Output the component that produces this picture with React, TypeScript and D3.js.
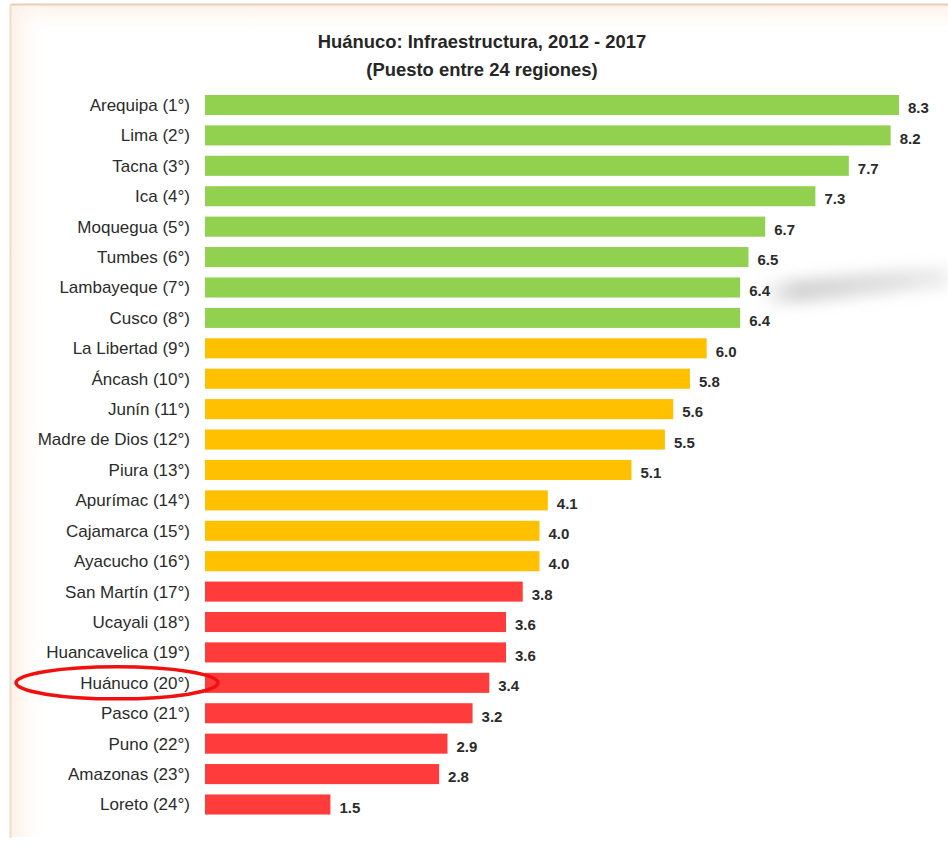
import React from "react";
import * as d3 from "d3";

const regions = [
  "Arequipa", "Lima", "Tacna", "Ica", "Moquegua", "Tumbes", "Lambayeque", "Cusco",
  "La Libertad", "Áncash", "Junín", "Madre de Dios", "Piura", "Apurímac", "Cajamarca", "Ayacucho",
  "San Martín", "Ucayali", "Huancavelica", "Huánuco", "Pasco", "Puno", "Amazonas", "Loreto",
];
const ranks = ["1°", "2°", "3°", "4°", "5°", "6°", "7°", "8°", "9°", "10°", "11°", "12°", "13°", "14°", "15°", "16°", "17°", "18°", "19°", "20°", "21°", "22°", "23°", "24°"];
const values = [8.3, 8.2, 7.7, 7.3, 6.7, 6.5, 6.4, 6.4, 6.0, 5.8, 5.6, 5.5, 5.1, 4.1, 4.0, 4.0, 3.8, 3.6, 3.6, 3.4, 3.2, 2.9, 2.8, 1.5];
const groups = ["alto", "alto", "alto", "alto", "alto", "alto", "alto", "alto",
  "medio", "medio", "medio", "medio", "medio", "medio", "medio", "medio",
  "bajo", "bajo", "bajo", "bajo", "bajo", "bajo", "bajo", "bajo"];
const titleLines = ["Huánuco:  Infraestructura, 2012 - 2017", "(Puesto entre 24 regiones)"];
const highlighted = "Huánuco";

const W = 948;
const H = 844;
const FONT = "'Liberation Sans Narrow', 'Arial Narrow', 'Liberation Sans', Arial, sans-serif";

export default function App() {
  const x = d3.scaleLinear().domain([0, 8.3]).range([205, 899]);
  const y = d3
    .scaleBand<string>()
    .domain(regions)
    .range([89.8, 819.7])
    .paddingInner(0.34)
    .paddingOuter(0.17);
  const color = d3
    .scaleOrdinal<string, string>()
    .domain(["alto", "medio", "bajo"])
    .range(["#92D050", "#FFC000", "#FF3B3B"]);
  const bh = y.bandwidth();
  const hiY = (y(highlighted) ?? 0) + bh / 2;

  return (
    <svg
      width={W}
      height={H}
      style={{ position: "absolute", left: 0, top: 0, background: "#fff" }}
    >
      <defs>
        <filter id="blur" x="-30%" y="-200%" width="160%" height="500%">
          <feGaussianBlur stdDeviation="7" />
        </filter>
        <linearGradient id="smudge" x1="0" x2="1" y1="0" y2="0">
          <stop offset="0" stopColor="#b0b0b0" stopOpacity="0" />
          <stop offset="0.2" stopColor="#b0b0b0" stopOpacity="0.55" />
          <stop offset="0.7" stopColor="#bdbdbd" stopOpacity="0.45" />
          <stop offset="1" stopColor="#d0d0d0" stopOpacity="0.35" />
        </linearGradient>
        <linearGradient id="edge" x1="0" x2="1" y1="0" y2="0">
          <stop offset="0" stopColor="#fdf1e6" />
          <stop offset="1" stopColor="#ffffff" stopOpacity="0" />
        </linearGradient>
        <linearGradient id="topedge" x1="0" x2="0" y1="0" y2="1">
          <stop offset="0" stopColor="#fdf1e6" />
          <stop offset="1" stopColor="#ffffff" stopOpacity="0" />
        </linearGradient>
      </defs>
      <rect x={0} y={0} width={W} height={H} fill="#fff" />
      {/* frame */}
      <rect x={11} y={5} width={W - 11} height={30} fill="url(#topedge)" />
      <rect x={11} y={5} width={40} height={H - 12} fill="url(#edge)" />
      <line x1={10.5} x2={W} y1={4.5} y2={4.5} stroke="#e8cdb8" strokeWidth={2} />
      <line x1={10.5} x2={10.5} y1={4} y2={H - 6} stroke="#f0dccd" strokeWidth={2} />

      {/* title */}
      {titleLines.map((t, i) => (
        <text
          key={t}
          x={482}
          y={48 + i * 28}
          textAnchor="middle"
          fontFamily={FONT}
          fontWeight="bold"
          fontSize={19}
          fill="#262626"
          transform={`translate(482,0) scale(0.97,1) translate(-482,0)`}
        >
          {t}
        </text>
      ))}

      {/* smudge */}
      <path
        d="M760,282 C820,278 880,270 948,266 L948,288 C880,294 820,302 760,306 Z"
        fill="url(#smudge)"
        filter="url(#blur)"
      />

      {/* bars */}
      {regions.map((r, i) => (
        <g key={r}>
          <rect
            x={x(0)}
            y={y(r)}
            width={x(values[i]) - x(0)}
            height={bh}
            fill={color(groups[i])}
          />
          <text
            x={190}
            y={(y(r) ?? 0) + bh / 2}
            dy="0.35em"
            textAnchor="end"
            fontFamily={FONT}
            fontSize={17}
            fill="#2b2b2b"
          >
            {`${r} (${ranks[i]})`}
          </text>
          <text
            x={x(values[i]) + 9}
            y={(y(r) ?? 0) + bh / 2 + 3}
            dy="0.35em"
            fontFamily={FONT}
            fontWeight="bold"
            fontSize={15}
            fill="#2b2b2b"
          >
            {values[i].toFixed(1)}
          </text>
        </g>
      ))}

      {/* highlight ellipse */}
      <ellipse
        cx={117}
        cy={hiY}
        rx={101}
        ry={16}
        fill="none"
        stroke="#F01010"
        strokeWidth={3.5}
      />
    </svg>
  );
}
